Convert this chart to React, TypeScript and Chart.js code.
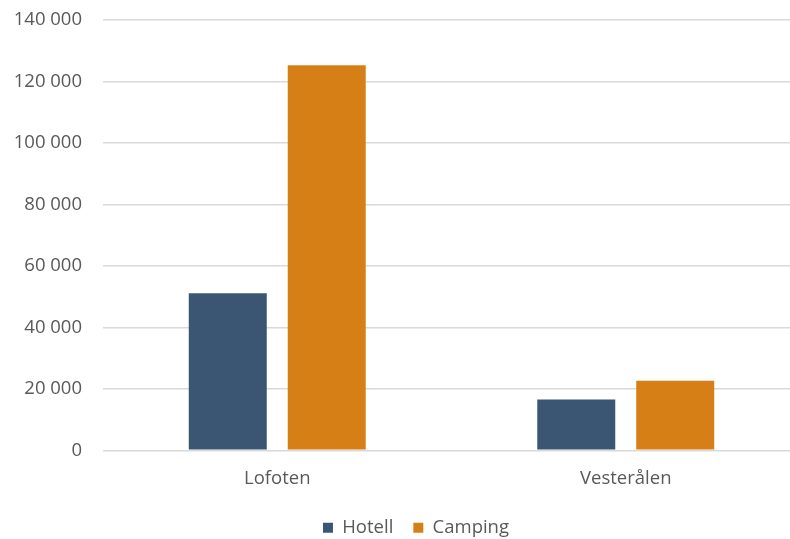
import React, { useEffect, useRef } from "react";
import { Chart, registerables } from "chart.js";

Chart.register(...registerables);

const categories = ["Lofoten", "Vesterålen"];
const hotell = [51100, 16500];
const camping = [125300, 22600];
const yMax = 140000;
const yStep = 20000;

const FONT = "'Open Sans', 'Noto Sans', sans-serif";
const TEXT = "#595959";

function fmt(v: number): string {
  return String(Math.round(v)).replace(/\B(?=(\d{3})+(?!\d))/g, " ");
}

const shiftLegend = {
  id: "shiftLegend",
  afterLayout(chart: any) {
    const l = chart.legend;
    if (l) {
      l.left += 16;
      l.right += 16;
    }
  },
};

export default function App() {
  const ref = useRef<HTMLCanvasElement | null>(null);
  useEffect(() => {
    if (!ref.current) return;
    const chart = new Chart(ref.current, {
      type: "bar",
      data: {
        labels: categories,
        datasets: [
          {
            label: "Hotell",
            data: hotell,
            backgroundColor: "#3B5673",
            categoryPercentage: 0.568,
            barPercentage: 0.788,
          },
          {
            label: "Camping",
            data: camping,
            backgroundColor: "#D77F17",
            categoryPercentage: 0.568,
            barPercentage: 0.788,
          },
        ],
      },
      options: {
        responsive: false,
        animation: false,
        layout: { padding: { top: 20, right: 32, left: 0, bottom: 0 } },
        plugins: {
          tooltip: { enabled: false },
          legend: {
            position: "bottom",
            labels: {
              color: TEXT,
              font: { family: FONT, size: 18.5 },
              boxWidth: 10,
              boxHeight: 10,
              padding: 20,
            },
          },
        },
        scales: {
          x: {
            grid: { display: false, drawTicks: false },
            border: { display: false },
            afterFit: (scale: any) => {
              scale.height -= 8;
            },
            ticks: {
              color: TEXT,
              font: { family: FONT, size: 18.5 },
              padding: 17,
            },
          },
          y: {
            min: 0,
            max: yMax,
            afterFit: (scale: any) => {
              scale.width = 103;
              scale.paddingTop = 0;
              scale.paddingBottom = 0;
            },
            grid: { color: "#D9D9D9", lineWidth: 1.5, drawTicks: false },
            border: { display: false },
            ticks: {
              stepSize: yStep,
              color: TEXT,
              font: { family: FONT, size: 18.5 },
              padding: 21,
              callback: (v: any) => fmt(Number(v)),
            },
          },
        },
      },
      plugins: [shiftLegend],
    });
    return () => chart.destroy();
  }, []);
  return (
    <div style={{ position: "fixed", left: 0, top: 0, width: 832, height: 547, background: "#fff" }}>
      <canvas ref={ref} width={832} height={547} style={{ width: 832, height: 547 }} />
    </div>
  );
}
